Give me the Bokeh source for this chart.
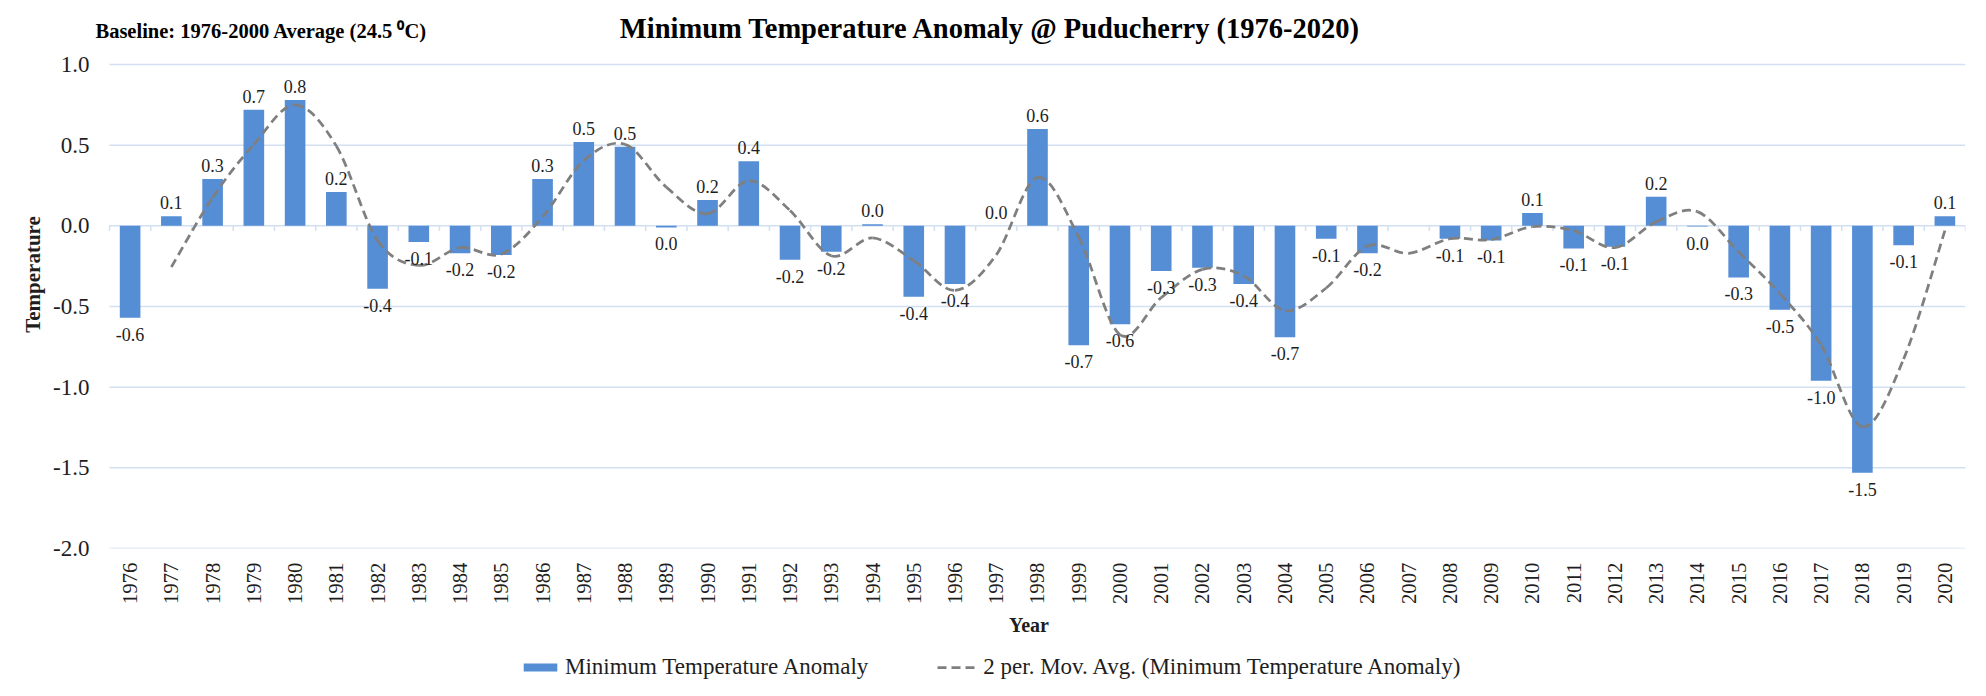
import math
from bokeh.plotting import figure
from bokeh.layouts import column
from bokeh.models import (Range1d, FixedTicker, PrintfTickFormatter, Label,
                          Legend, LegendItem)
from bokeh.embed import file_html
from bokeh.resources import INLINE
from bokeh.core.properties import value

# ---------------- data ----------------
years = list(range(1976, 2021))
anomaly = [-0.57, 0.06, 0.29, 0.72, 0.78, 0.21, -0.39, -0.10, -0.17, -0.18,
           0.29, 0.52, 0.49, -0.01, 0.16, 0.40, -0.21, -0.16, 0.01, -0.44,
           -0.36, 0.00, 0.60, -0.74, -0.61, -0.28, -0.26, -0.36, -0.69, -0.08,
           -0.17, float("nan"), -0.08, -0.09, 0.08, -0.14, -0.13, 0.18, -0.004, -0.32,
           -0.52, -0.96, -1.53, -0.12, 0.06]
ma_years = list(range(1977, 2021))
mov_avg = [-0.255, 0.175, 0.505, 0.75, 0.495, -0.09, -0.245, -0.135, -0.175,
           0.055, 0.405, 0.505, 0.24, 0.075, 0.28, 0.095, -0.185, -0.075, -0.215,
           -0.40, -0.18, 0.30, -0.07, -0.675, -0.445, -0.27, -0.31, -0.525, -0.385,
           -0.125, -0.17, -0.08, -0.085, -0.005, -0.03, -0.135, 0.025, 0.088, -0.162,
           -0.42, -0.74, -1.245, -0.825, -0.03]
y_ticks = [-2.0, -1.5, -1.0, -0.5, 0.0, 0.5, 1.0]

TITLE = "Minimum Temperature Anomaly @ Puducherry (1976-2020)"
BASELINE = "Baseline: 1976-2000 Average (24.5 \u2070C)"
BAR_NAME = "Minimum Temperature Anomaly"
LINE_NAME = "2 per. Mov. Avg. (Minimum Temperature Anomaly)"
X_LABEL = "Year"
Y_LABEL = "Temperature"

FONT = "Liberation Serif"
TXT = "#1e1e1e"
BAR_COLOR = "#558ED5"
GRID_COLOR = "#D3E0F2"
LINE_COLOR = "#7F7F7F"
LINE_W = 2.75
LINE_DASH = "9 5"

# ---------------- main figure ----------------
# the frame also covers the heading strip so that the headings can be drawn in it
x_lo = years[0] - 0.5
x_hi = years[-1] + 0.5
p = figure(width=1970, height=645, output_backend="svg", toolbar_location=None,
           title=None,
           x_range=Range1d(x_lo - 0.412, x_hi),
           y_range=Range1d(y_ticks[0], y_ticks[-1] + 0.397),
           min_border_left=92, min_border_right=5,
           min_border_top=0, min_border_bottom=97)
p.outline_line_color = None
p.background_fill_color = "white"
p.border_fill_color = "white"
p.xgrid.visible = False
p.ygrid.visible = False

# horizontal grid lines across the category span
p.segment(x0=[x_lo] * len(y_ticks), y0=y_ticks, x1=[x_hi] * len(y_ticks), y1=y_ticks,
          line_color=GRID_COLOR, line_width=1.5)

# y axis
yax = p.yaxis[0]
yax.ticker = FixedTicker(ticks=y_ticks)
yax.formatter = PrintfTickFormatter(format="%.1f")
yax.axis_line_color = None
yax.major_tick_line_color = None
yax.minor_tick_line_color = None
yax.major_tick_out = 0
yax.major_tick_in = 0
yax.major_label_text_font = FONT
yax.major_label_text_font_size = "23px"
yax.major_label_text_color = TXT
yax.major_label_standoff = 3
yax.axis_label = Y_LABEL
yax.axis_label_text_font = FONT
yax.axis_label_text_font_style = "bold"
yax.axis_label_text_font_size = "21px"
yax.axis_label_text_color = TXT
yax.axis_label_standoff = 5

# x axis
xax = p.xaxis[0]
xax.ticker = FixedTicker(ticks=years)
xax.major_label_orientation = math.pi / 2
xax.axis_line_color = None
xax.major_tick_line_color = None
xax.minor_tick_line_color = None
xax.major_tick_out = 0
xax.major_tick_in = 0
xax.major_label_text_font = FONT
xax.major_label_text_font_size = "20.8px"
xax.major_label_text_color = TXT
xax.major_label_standoff = 14
xax.axis_label = X_LABEL
xax.axis_label_text_font = FONT
xax.axis_label_text_font_style = "bold"
xax.axis_label_text_font_size = "20px"
xax.axis_label_text_color = TXT
xax.axis_label_standoff = 7

# category tick marks on the zero line
bounds = [y - 0.5 for y in years] + [years[-1] + 0.5]
p.segment(x0=bounds, y0=[0.0] * len(bounds), x1=bounds, y1=[-0.032] * len(bounds),
          line_color=GRID_COLOR, line_width=1.5)

# bars
bars = p.vbar(x=years, top=anomaly, bottom=0, width=0.5,
              fill_color=BAR_COLOR, line_color=None)

# moving average line (smoothed, bezier through the points)
n = len(ma_years)
x0s, y0s, x1s, y1s, cx0, cy0, cx1, cy1 = [], [], [], [], [], [], [], []
for i in range(n - 1):
    pa = (ma_years[max(i - 1, 0)], mov_avg[max(i - 1, 0)])
    pb = (ma_years[i], mov_avg[i])
    pc = (ma_years[i + 1], mov_avg[i + 1])
    pd = (ma_years[min(i + 2, n - 1)], mov_avg[min(i + 2, n - 1)])
    x0s.append(pb[0]); y0s.append(pb[1]); x1s.append(pc[0]); y1s.append(pc[1])
    cx0.append(pb[0] + (pc[0] - pa[0]) / 6.0); cy0.append(pb[1] + (pc[1] - pa[1]) / 6.0)
    cx1.append(pc[0] - (pd[0] - pb[0]) / 6.0); cy1.append(pc[1] - (pd[1] - pb[1]) / 6.0)
p.bezier(x0=x0s, y0=y0s, x1=x1s, y1=y1s, cx0=cx0, cy0=cy0, cx1=cx1, cy1=cy1,
         line_color=LINE_COLOR, line_width=LINE_W, line_dash=LINE_DASH)


# data labels
def fmt(v):
    return "%.1f" % (round(v, 1) + 0.0)

pos_x = [y for y, v in zip(years, anomaly) if not math.isnan(v) and v >= 0]
pos_v = [v for v in anomaly if not math.isnan(v) and v >= 0]
neg_x = [y for y, v in zip(years, anomaly) if not math.isnan(v) and v < 0]
neg_v = [v for v in anomaly if not math.isnan(v) and v < 0]
p.text(x=pos_x, y=pos_v, text=[fmt(v) for v in pos_v], text_align="center",
       text_baseline="bottom", y_offset=-7, text_font=value(FONT),
       text_font_size="18px", text_color=TXT)
p.text(x=neg_x, y=neg_v, text=[fmt(v) for v in neg_v], text_align="center",
       text_baseline="top", y_offset=10, text_font=value(FONT),
       text_font_size="18px", text_color=TXT)

# headings
p.add_layout(Label(x=1996.86, y=1.223, text=TITLE, text_align="center",
                   text_baseline="middle", text_font=FONT, text_font_size="28.5px",
                   text_font_style="bold", text_color="black"))
p.add_layout(Label(x=1975.16, y=1.211, text=BASELINE, text_align="left",
                   text_baseline="middle", text_font=FONT, text_font_size="20.5px",
                   text_font_style="bold", text_color="black"))

# ---------------- legend strip ----------------
# the same two series are plotted here below the visible y range, only for the legend
lg = figure(width=1970, height=35, output_backend="svg", toolbar_location=None,
            title=None, x_axis_location=None, y_axis_location=None,
            x_range=Range1d(x_lo - 0.412, x_hi), y_range=Range1d(5, 6),
            min_border_left=92, min_border_right=5, min_border_top=0, min_border_bottom=0)
lg.outline_line_color = None
lg.xgrid.visible = False
lg.ygrid.visible = False
lg_bar = lg.vbar(x=years, top=anomaly, width=0.5, fill_color=BAR_COLOR, line_color=None)
lg_line = lg.line(x=ma_years, y=mov_avg, line_color=LINE_COLOR, line_width=LINE_W,
                  line_dash=LINE_DASH)
legend = Legend(items=[LegendItem(label=BAR_NAME, renderers=[lg_bar]),
                       LegendItem(label=LINE_NAME, renderers=[lg_line])],
                orientation="horizontal", location=(427, 0),
                padding=0, margin=0, spacing=69, label_standoff=4,
                glyph_width=42, glyph_height=10,
                border_line_color=None, background_fill_alpha=0,
                label_text_font=FONT, label_text_font_size="23px",
                label_text_color=TXT)
lg.add_layout(legend)

layout = column(p, lg, spacing=0)
open("out.html", "w").write(file_html(layout, INLINE))
